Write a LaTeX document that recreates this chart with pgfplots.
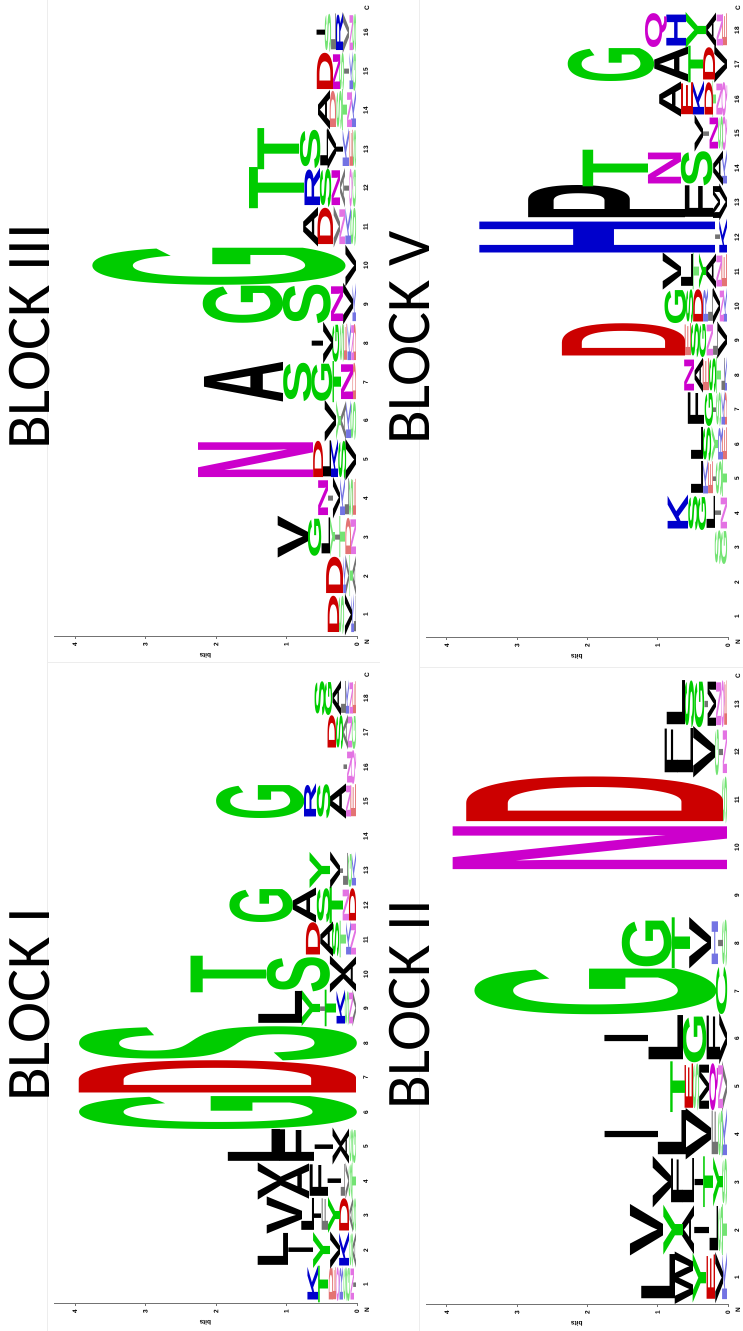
\documentclass[border=0pt]{standalone}
\usepackage{pgfplots}
\pgfplotsset{compat=1.18}
\usepackage{pgfplotstable}
\usepackage{fontspec}
\setmainfont{Liberation Sans}
\newfontfamily\logofont{Liberation Sans}
\newfontfamily\titlefont{Carlito}
\definecolor{lgreen}{RGB}{0,204,0}
\definecolor{lred}{RGB}{204,0,0}
\definecolor{lblue}{RGB}{0,0,204}
\definecolor{lmag}{RGB}{204,0,204}
\colorlet{lcG}{lgreen}\colorlet{lcS}{lgreen}\colorlet{lcT}{lgreen}\colorlet{lcY}{lgreen}\colorlet{lcC}{lgreen}
\colorlet{lcN}{lmag}\colorlet{lcQ}{lmag}
\colorlet{lcK}{lblue}\colorlet{lcR}{lblue}\colorlet{lcH}{lblue}
\colorlet{lcD}{lred}\colorlet{lcE}{lred}
\colorlet{lcA}{black}\colorlet{lcV}{black}\colorlet{lcL}{black}\colorlet{lcI}{black}
\colorlet{lcP}{black}\colorlet{lcW}{black}\colorlet{lcF}{black}\colorlet{lcM}{black}
\newdimen\colw \newdimen\yunit \newdimen\lwd \newdimen\lht
\def\lsplit#1#2\relax{\def\lett{#1}\def\hraw{#2}}
\newcommand\logoglyph{%
  \expandafter\lsplit\pgfplotspointmeta\relax
  \if I\lett \lwd=0.25\colw \else \lwd=1.1\colw \fi
  \lht=\hraw\yunit
  \ifdim\lht<7pt\def\lop{55}\else\def\lop{100}\fi
  \resizebox*{\lwd}{\lht}{\logofont\bfseries\textcolor{lc\lett!\lop}{\lett}}}

\pgfplotsset{
  logoaxis/.style={
    axis y line*=left, axis x line*=bottom,
    x axis line style={draw=none},
    xtick style={draw=none},
    ymin=0, ymax=4.3, ytick={0,1,2,3,4},
    tick align=outside, major tick length=3pt,
    y axis line style={black!55, line width=0.8pt},
    ytick style={black!55, line width=0.8pt},
    ylabel={bits}, ylabel style={font=\fontsize{6.5}{7}\selectfont\bfseries},
    ticklabel style={font=\fontsize{6.5}{7}\selectfont\bfseries},
    /pgf/number format/assume math mode=true,
    clip=false,
    anchor=south west,
  },
  logoplot/.style={draw=none, mark=none, point meta=explicit symbolic,
    nodes near coords={\logoglyph},
    nodes near coords style={anchor=south, inner sep=0pt, outer sep=0pt},
  },
}

\pgfplotstableread{
x y m
1 0 I0.04
1 0.04 N0.05
1 0.09 G0.05
1 0.14 S0.05
1 0.19 R0.05
1 0.24 Q0.05
1 0.29 E0.05
1 0.34 D0.06
1 0.40 T0.14
1 0.54 K0.15
2 0 A0.05
2 0.05 S0.05
2 0.10 K0.14
2 0.24 V0.14
2 0.38 Y0.24
2 0.62 I0.35
2 0.97 L0.43
3 0 S0.05
3 0.05 A0.05
3 0.10 D0.14
3 0.24 Y0.17
3 0.41 F0.09
3 0.50 I0.10
3 0.60 L0.18
3 0.78 V0.50
4 0 T0.06
4 0.06 S0.05
4 0.11 V0.05
4 0.16 L0.06
4 0.22 I0.19
4 0.41 F0.26
4 0.67 A0.40
4 1.07 V0.33
5 0 G0.05
5 0.05 S0.05
5 0.10 A0.12
5 0.22 V0.12
5 0.34 I0.26
5 0.60 F0.49
5 1.09 L0.74
6 0 G3.93
7 0 D3.93
8 0 S3.93
9 0 V0.05
9 0.05 N0.06
9 0.11 S0.06
9 0.17 K0.12
9 0.29 T0.16
9 0.45 I0.07
9 0.52 Y0.26
9 0.78 L0.62
10 0 A0.18
10 0.18 V0.20
10 0.38 S0.90
10 1.28 T1.07
11 0 N0.08
11 0.08 K0.07
11 0.15 T0.09
11 0.24 S0.10
11 0.34 A0.18
11 0.52 D0.20
12 0 D0.10
12 0.10 N0.09
12 0.19 T0.19
12 0.38 S0.19
12 0.57 A0.33
12 0.90 G0.90
13 0 K0.06
13 0.06 G0.06
13 0.12 L0.07
13 0.19 I0.05
13 0.24 V0.14
13 0.38 Y0.29
15 0 E0.08
15 0.08 N0.07
15 0.15 A0.23
15 0.38 S0.19
15 0.57 R0.17
15 0.74 G1.25
16 0 Q0.07
16 0.07 N0.07
16 0.14 I0.05
17 0 G0.06
17 0.06 N0.06
17 0.12 A0.07
17 0.19 S0.10
17 0.29 D0.12
18 0 E0.05
18 0.05 N0.05
18 0.10 K0.05
18 0.15 L0.07
18 0.22 A0.12
18 0.34 G0.11
18 0.45 S0.15
}\tabI

\pgfplotstableread{
x y m
1 0 L0.03
1 0.03 K0.04
1 0.07 V0.10
1 0.17 S0.08
1 0.25 D0.16
2 0 A0.05
2 0.05 T0.05
2 0.10 V0.05
2 0.15 K0.04
2 0.19 D0.24
3 0 N0.08
3 0.08 D0.08
3 0.16 T0.08
3 0.24 I0.07
3 0.31 Y0.07
3 0.38 L0.12
3 0.50 G0.19
3 0.69 V0.43
4 0 E0.05
4 0.05 S0.06
4 0.11 L0.06
4 0.17 K0.07
4 0.24 V0.10
4 0.34 I0.07
4 0.41 N0.14
5 0 V0.15
5 0.15 S0.11
5 0.26 K0.10
5 0.36 L0.12
5 0.48 D0.14
5 0.62 N1.63
6 0 S0.08
6 0.08 K0.07
6 0.15 A0.07
6 0.22 Y0.07
6 0.29 V0.16
7 0 D0.05
7 0.05 N0.17
7 0.22 T0.12
7 0.34 G0.30
7 0.64 S0.40
7 1.04 A1.12
8 0 D0.04
8 0.04 N0.04
8 0.08 K0.05
8 0.13 E0.05
8 0.18 S0.06
8 0.24 G0.10
8 0.34 V0.14
8 0.48 I0.16
9 0 K0.05
9 0.05 V0.14
9 0.19 N0.17
9 0.36 S0.68
9 1.04 G1.14
10 0 V0.15
10 0.15 G3.59
11 0 S0.08
11 0.08 K0.08
11 0.16 N0.08
11 0.24 V0.09
11 0.33 D0.22
11 0.55 A0.21
12 0 G0.05
12 0.05 Q0.05
12 0.10 I0.07
12 0.17 A0.07
12 0.24 N0.12
12 0.36 S0.16
12 0.52 R0.22
12 0.74 T0.78
13 0 S0.05
13 0.05 E0.05
13 0.10 K0.09
13 0.19 I0.10
13 0.29 V0.12
13 0.41 L0.11
13 0.52 S0.29
13 0.81 T0.59
14 0 K0.07
14 0.07 N0.07
14 0.14 T0.07
14 0.21 S0.08
14 0.29 D0.09
14 0.38 A0.17
15 0 G0.05
15 0.05 K0.05
15 0.10 I0.07
15 0.17 S0.07
15 0.24 N0.10
15 0.34 D0.23
16 0 S0.05
16 0.05 N0.05
16 0.10 V0.09
16 0.19 R0.10
16 0.29 L0.07
16 0.36 S0.09
16 0.45 I0.12
}\tabIII

\pgfplotstableread{
x y m
1 0 K0.07
1 0.07 V0.11
1 0.18 E0.12
1 0.30 Y0.19
1 0.49 W0.26
1 0.75 L0.48
2 0 T0.07
2 0.07 S0.07
2 0.14 L0.12
2 0.26 I0.21
2 0.47 A0.17
2 0.64 Y0.28
2 0.92 V0.47
3 0 S0.07
3 0.07 Y0.14
3 0.21 T0.14
3 0.35 I0.12
3 0.47 L0.16
3 0.63 F0.17
3 0.80 V0.26
4 0 K0.07
4 0.07 S0.07
4 0.14 F0.09
4 0.23 V0.36
4 0.59 L0.40
4 0.99 I0.76
5 0 V0.07
5 0.07 N0.07
5 0.14 Q0.12
5 0.26 M0.14
5 0.40 S0.09
5 0.49 E0.12
5 0.61 T0.21
6 0 V0.11
6 0.11 F0.19
6 0.30 G0.34
6 0.64 L0.49
6 1.13 I0.62
7 0 C0.16
7 0.16 G3.44
8 0 S0.07
8 0.07 I0.07
8 0.14 H0.09
8 0.23 V0.31
8 0.54 T0.26
8 0.80 G0.71
10 0 N3.90
11 0 S0.07
11 0.07 D3.65
12 0 N0.06
12 0.06 I0.06
12 0.12 G0.06
12 0.18 V0.31
12 0.49 L0.22
12 0.71 F0.19
13 0 E0.04
13 0.04 Q0.05
13 0.09 N0.07
13 0.16 M0.12
13 0.28 I0.05
13 0.33 G0.14
13 0.47 S0.14
13 0.61 L0.26
}\tabII

\pgfplotstableread{
x y m
3 0 G0.09
3 0.09 S0.09
4 0 N0.09
4 0.09 I0.09
4 0.18 L0.12
4 0.30 G0.12
4 0.42 S0.14
4 0.56 K0.29
5 0 T0.07
5 0.07 S0.09
5 0.16 I0.05
5 0.21 E0.07
5 0.28 K0.07
5 0.35 L0.17
6 0 E0.07
6 0.07 R0.07
6 0.14 Y0.09
6 0.23 S0.12
6 0.35 L0.17
7 0 D0.04
7 0.04 K0.05
7 0.09 S0.07
7 0.16 I0.05
7 0.21 G0.12
7 0.33 F0.23
8 0 K0.04
8 0.04 L0.05
8 0.09 T0.07
8 0.16 S0.10
8 0.26 E0.09
8 0.35 A0.12
8 0.47 N0.14
9 0 V0.14
9 0.14 L0.07
9 0.21 N0.09
9 0.30 G0.10
9 0.40 S0.12
9 0.52 E0.09
9 0.61 D1.75
10 0 K0.05
10 0.05 N0.06
10 0.11 V0.10
10 0.21 L0.07
10 0.28 R0.07
10 0.35 D0.14
10 0.49 S0.10
10 0.59 G0.31
11 0 E0.08
11 0.08 N0.08
11 0.16 A0.14
11 0.30 Y0.10
11 0.40 T0.09
11 0.49 L0.17
11 0.66 V0.26
12 0 K0.11
12 0.11 I0.07
12 0.18 H3.35
13 0 V0.11
13 0.11 M0.10
13 0.21 F0.40
13 0.61 P2.23
14 0 K0.07
14 0.07 A0.14
14 0.21 S0.45
14 0.66 N0.47
14 1.13 T0.93
15 0 Q0.07
15 0.07 S0.07
15 0.14 N0.12
15 0.26 I0.09
15 0.35 V0.12
16 0 Q0.08
16 0.08 N0.08
16 0.16 T0.05
16 0.21 D0.12
16 0.33 K0.16
16 0.49 E0.17
16 0.66 A0.31
17 0 V0.18
17 0.18 D0.17
17 0.35 T0.21
17 0.56 A0.48
17 1.04 G1.23
18 0 E0.07
18 0.07 N0.09
18 0.16 A0.14
18 0.30 Y0.29
18 0.59 H0.28
18 0.87 Q0.31
}\tabV

\begin{document}
\rotatebox{90}{%
\begin{tikzpicture}
\path[use as bounding box] (0pt,0pt) rectangle (1331pt,743pt);
% faint frames of the pasted logo panels
\draw[black!7, line width=0.8pt] (0pt,696pt) -- (1331pt,696pt);
\draw[black!7, line width=0.8pt] (669pt,363pt) -- (669pt,696pt);
\draw[black!7, line width=0.8pt] (0pt,324pt) -- (1331pt,324pt);
\draw[black!7, line width=0.8pt] (664pt,0pt) -- (664pt,324pt);
% BLOCK I
\global\colw=34.5pt \global\yunit=70.5pt
\begin{axis}[logoaxis, at={(28pt,386pt)}, x=34.5pt, y=70.5pt,
  xmin=0.478, xmax=18.7, xtick={1,...,18}]
\addplot[logoplot] table[x=x, y=y, meta=m] \tabI;
\node[font=\fontsize{6.5}{7}\selectfont\bfseries] at (axis cs:0.27,-0.14) {N};
\node[font=\fontsize{6.5}{7}\selectfont\bfseries] at (axis cs:18.68,-0.14) {C};
\end{axis}
% BLOCK III
\global\colw=38.8pt \global\yunit=70.5pt
\begin{axis}[logoaxis, at={(695pt,386pt)}, x=38.8pt, y=70.5pt,
  xmin=0.459, xmax=16.7, xtick={1,...,16}]
\addplot[logoplot] table[x=x, y=y, meta=m] \tabIII;
\node[font=\fontsize{6.5}{7}\selectfont\bfseries] at (axis cs:0.30,-0.14) {N};
\node[font=\fontsize{6.5}{7}\selectfont\bfseries] at (axis cs:16.64,-0.14) {C};
\end{axis}
% BLOCK II
\global\colw=47.8pt \global\yunit=70.3pt
\begin{axis}[logoaxis, at={(27pt,15pt)}, x=47.8pt, y=70.3pt,
  xmin=0.456, xmax=13.6, xtick={1,...,13}]
\addplot[logoplot] table[x=x, y=y, meta=m] \tabII;
\node[font=\fontsize{6.5}{7}\selectfont\bfseries] at (axis cs:0.33,-0.14) {N};
\node[font=\fontsize{6.5}{7}\selectfont\bfseries] at (axis cs:13.6,-0.14) {C};
\end{axis}
% BLOCK V
\global\colw=34.5pt \global\yunit=70.3pt
\begin{axis}[logoaxis, at={(694pt,15pt)}, x=34.5pt, y=70.3pt,
  xmin=0.42, xmax=18.7, xtick={1,...,18}]
\addplot[logoplot] table[x=x, y=y, meta=m] \tabV;
\node[font=\fontsize{6.5}{7}\selectfont\bfseries] at (axis cs:0.28,-0.14) {N};
\node[font=\fontsize{6.5}{7}\selectfont\bfseries] at (axis cs:18.65,-0.14) {C};
\end{axis}
% titles
\node[anchor=base west, inner sep=0pt, font=\titlefont\fontsize{62}{62}\selectfont] at (229pt,693pt) {BLOCK I};
\node[anchor=base west, inner sep=0pt, font=\titlefont\fontsize{62}{62}\selectfont] at (881pt,693pt) {BLOCK III};
\node[anchor=base west, inner sep=0pt, font=\titlefont\fontsize{62}{62}\selectfont] at (221pt,313pt) {BLOCK II};
\node[anchor=base west, inner sep=0pt, font=\titlefont\fontsize{62}{62}\selectfont] at (886pt,313pt) {BLOCK V};
\end{tikzpicture}}
\end{document}
